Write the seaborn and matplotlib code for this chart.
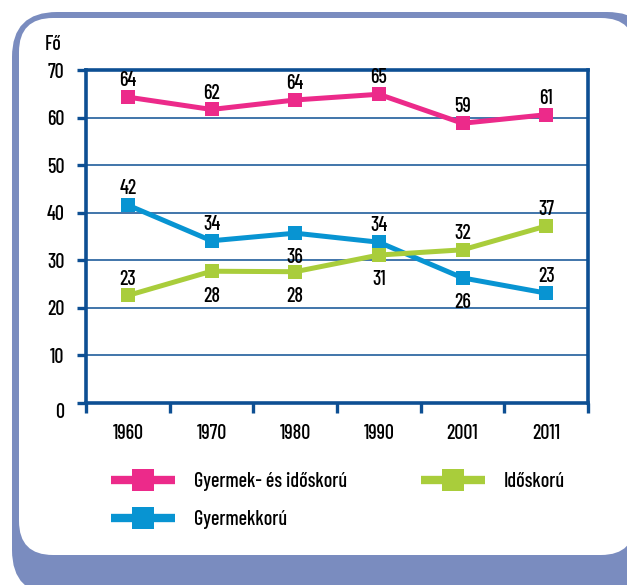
import pandas as pd
import matplotlib.pyplot as plt
import seaborn as sns
from matplotlib.patches import FancyBboxPatch
from matplotlib.lines import Line2D

# Adatok
years = ['1960', '1970', '1980', '1990', '2001', '2011']
both = [64.3, 61.7, 63.7, 64.9, 58.8, 60.6]
child = [41.6, 34.1, 35.7, 33.8, 26.3, 23.1]
elderly = [22.6, 27.7, 27.6, 31.1, 32.2, 37.2]
names = ['Gyermek- és időskorú', 'Gyermekkorú', 'Időskorú']
colors = ['#ec2a8a', '#0894d2', '#a9cd3b']
# feliratok a pont alatt (True) vagy felett (False)
below = [
    [False] * 6,
    [False, False, True, False, True, False],
    [False, True, True, True, False, False],
]

sns.set_style('white')
plt.rcParams['font.family'] = ['Barlow Condensed', 'DejaVu Sans']
plt.rcParams['font.weight'] = 500
plt.rcParams['text.color'] = 'black'
plt.rcParams['xtick.color'] = 'black'
plt.rcParams['ytick.color'] = 'black'
axis_c = '#0d4f93'
fs = 14.5

df = pd.DataFrame({
    'Év': years * 3,
    'Fő': both + child + elderly,
    'Csoport': [n for n in names for _ in years],
})

fig = plt.figure(figsize=(6.27, 5.85), dpi=100)

# keret
bg = fig.add_axes([0, 0, 1, 1])
bg.set_xlim(0, 627)
bg.set_ylim(585, 0)
bg.axis('off')
bg.add_patch(FancyBboxPatch((12, 12), 640, 583, boxstyle='round,pad=0,rounding_size=45',
                            fc='#7a8cbf', ec='none'))
bg.add_patch(FancyBboxPatch((19, 18), 616, 537, boxstyle='round,pad=0,rounding_size=34',
                            fc='white', ec='none'))

ax = fig.add_axes([86 / 627, 1 - 403 / 585, 502 / 627, 333 / 585])
ax.set_facecolor('none')
sns.lineplot(data=df, x='Év', y='Fő', hue='Csoport', hue_order=names, palette=colors,
             marker='s', markersize=10, markeredgewidth=0, linewidth=3.6,
             legend=False, ax=ax)

ax.set_xlim(-0.5, 5.5)
ax.set_ylim(0, 70)
ax.set_yticks(range(0, 71, 10))
ax.set_xticks(range(len(years)))
ax.set_xticklabels(years)
ax.set_xticks([i - 0.5 for i in range(len(years) + 1)], minor=True)
ax.set_xlabel('')
ax.set_ylabel('')
ax.yaxis.grid(True, color=axis_c, lw=1.1)
ax.set_axisbelow(True)
for s in ax.spines.values():
    s.set_visible(True)
    s.set_color(axis_c)
    s.set_linewidth(2.6)

ax.tick_params(axis='y', left=True, length=6.5, width=2.4, color=axis_c,
               labelcolor='black', labelsize=fs, pad=9)
ax.tick_params(axis='x', which='major', bottom=True, length=0, labelcolor='black',
               labelsize=fs, pad=15)
ax.tick_params(axis='x', which='minor', bottom=True, length=7, width=2.4, color=axis_c)
ax.get_yticklabels()[0].set_va('top')

# értékfeliratok
for vals, pos in zip([both, child, elderly], below):
    for i, v in enumerate(vals):
        ax.annotate(f'{v:.0f}', (i, v), xytext=(0, -11 if pos[i] else 5),
                    textcoords='offset points', ha='center',
                    va='top' if pos[i] else 'bottom', fontsize=fs)

fig.text(53 / 627, 1 - 45 / 585, 'Fő', ha='center', va='center', fontsize=fs)

# jelmagyarázat
handles = [Line2D([], [], color=c, lw=6, marker='s', markersize=16, markeredgewidth=0,
                  solid_capstyle='butt')
           for c in colors]
leg_kw = dict(frameon=False, fontsize=fs, handlelength=3.2, handletextpad=0.9,
              labelspacing=0.95, borderpad=0, borderaxespad=0, loc='upper left')
fig.legend(handles=handles[:2], labels=names[:2],
           bbox_to_anchor=(111 / 627, 1 - 472 / 585), **leg_kw)
fig.legend(handles=handles[2:], labels=names[2:],
           bbox_to_anchor=(421 / 627, 1 - 472 / 585), **leg_kw)

fig.savefig('out.png', dpi=100)
